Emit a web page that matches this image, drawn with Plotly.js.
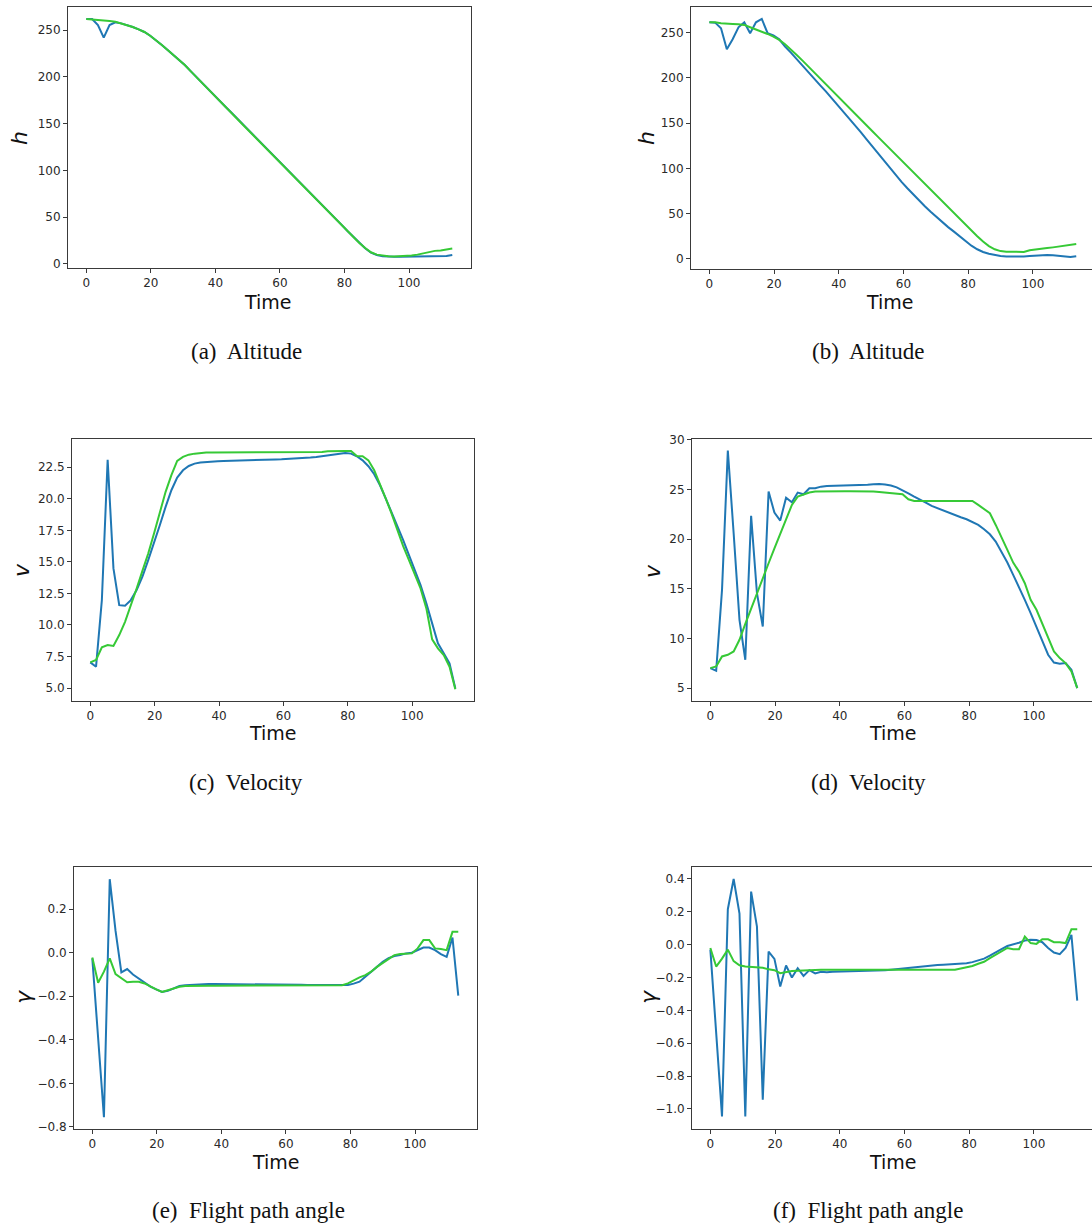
<!DOCTYPE html>
<html>
<head>
<meta charset="utf-8">
<script src="https://cdn.plot.ly/plotly-3.0.1.min.js"></script>
<style>
html,body{margin:0;padding:0;overflow:hidden;background:#fff;}
#chart{width:1100px;height:1226px;}
</style>
</head>
<body>
<div id="chart"></div>
<script>
// ---------- DATA ----------
const time = [0, 1.8, 3.6, 5.4, 7.2, 9, 10.8, 12.6, 14.4, 16.2, 18, 19.8, 21.6, 23.4, 25.2, 27, 28.8, 30.6, 32.4, 34.2,
  36, 37.8, 39.6, 41.4, 43.2, 45, 46.8, 48.6, 50.4, 52.2, 54, 55.8, 57.6, 59.4, 61.2, 63, 64.8, 66.6, 68.4, 70.2,
  72, 73.8, 75.6, 77.4, 79.2, 81, 82.8, 84.6, 86.4, 88.2, 90, 91.8, 93.6, 95.4, 97.2, 99, 100.8, 102.6, 104.4, 106.2,
  108, 109.8, 111.6, 113.4];

// (a) Altitude
const altA_blue = [261.8, 261.8, 255.3, 241.8, 255.3, 258.2, 257.1, 255.3, 253.2, 250.7, 247.9, 243.9, 239.3, 234.0, 228.7, 223.4, 218.0, 212.3, 205.8, 199.3,
  192.9, 186.6, 180.4, 174.1, 167.8, 161.6, 155.3, 149.0, 142.8, 136.6, 130.3, 124.1, 117.8, 111.6, 105.4, 99.1, 92.8, 86.5, 80.1, 73.8,
  67.4, 60.9, 54.5, 48.0, 41.5, 35.0, 28.6, 22.4, 16.8, 12.2, 9.6, 8.3, 7.8, 7.7, 7.7, 7.8, 7.8, 8.0, 8.3, 8.5,
  8.4, 8.0, 8.5, 9.5];
const altA_green = [261.8, 261.4, 260.7, 260.0, 259.6, 258.9, 257.1, 255.3, 253.2, 250.7, 247.9, 243.9, 239.3, 234.0, 228.7, 223.4, 218.0, 212.3, 205.8, 199.3,
  192.9, 186.5, 180.2, 173.9, 167.5, 161.2, 154.9, 148.5, 142.2, 135.9, 129.5, 123.2, 116.8, 110.5, 104.2, 97.8, 91.5, 85.2, 78.8, 72.5,
  66.2, 59.8, 53.5, 47.2, 40.8, 34.6, 28.5, 22.5, 17.0, 12.5, 10.0, 8.7, 8.2, 8.0, 8.2, 8.5, 9.0, 10.0, 11.5, 13.0,
  14.0, 14.5, 15.3, 16.5];

// (b) Altitude
const altB_blue = [261.4, 261.0, 254.8, 231.6, 242.6, 255.9, 261.4, 249.3, 261.4, 265.1, 249.3, 247.0, 242.6, 234.5, 227.9, 220.5, 213.1, 205.8, 198.7, 192.0,
  185.0, 177.5, 170.5, 163.5, 156.0, 148.0, 140.0, 132.0, 124.0, 116.5, 108.5, 100.5, 93.0, 85.0, 78.0, 71.0, 64.5, 58.0, 52.0, 46.0,
  40.5, 35.0, 30.0, 24.5, 19.5, 14.5, 10.5, 7.5, 5.5, 4.0, 3.0, 2.5, 2.3, 2.3, 2.5, 3.0, 3.5, 4.0, 4.2, 3.8,
  3.0, 2.2, 2.0, 2.8];
const altB_green = [261.4, 261.4, 260.3, 259.6, 259.6, 259.2, 258.5, 255.9, 253.7, 251.1, 248.5, 245.6, 241.9, 237.1, 231.6, 225.3, 219.0, 212.4, 206.0, 199.5,
  193.0, 186.5, 180.0, 173.5, 167.0, 160.5, 154.0, 147.5, 141.0, 134.5, 128.0, 121.5, 115.0, 108.5, 102.0, 95.5, 89.0, 82.5, 76.0, 69.5,
  63.0, 56.5, 50.0, 43.5, 37.0, 31.0, 25.0, 19.0, 14.0, 10.5, 8.5, 7.8, 7.5, 7.5, 7.6, 9.5, 10.0, 11.0, 11.8, 12.6,
  13.5, 14.3, 15.2, 16.3];

// (c) Velocity
const velC_blue = [7.03, 6.69, 11.97, 23.1, 14.48, 11.57, 11.52, 11.97, 12.76, 13.82, 15.14, 16.46, 17.9, 19.36, 20.68, 21.68, 22.26, 22.6, 22.79, 22.87,
  22.92, 22.95, 22.97, 22.99, 23.01, 23.03, 23.04, 23.06, 23.07, 23.08, 23.1, 23.11, 23.12, 23.13, 23.15, 23.17, 23.19, 23.22, 23.27, 23.32,
  23.38, 23.44, 23.5, 23.57, 23.63, 23.58, 23.37, 23.05, 22.58, 21.95, 21.07, 20.02, 18.96, 17.78, 16.72, 15.53, 14.34, 13.16, 11.71, 10.12,
  8.54, 7.75, 6.95, 4.97];
const velC_green = [7.03, 7.22, 8.22, 8.41, 8.33, 9.2, 10.25, 11.5, 12.89, 14.29, 15.66, 17.25, 18.96, 20.55, 21.87, 23.0, 23.32, 23.5, 23.58, 23.63,
  23.66, 23.67, 23.67, 23.68, 23.68, 23.68, 23.68, 23.68, 23.69, 23.69, 23.69, 23.69, 23.69, 23.7, 23.7, 23.7, 23.7, 23.7, 23.71, 23.71,
  23.71, 23.77, 23.79, 23.79, 23.79, 23.79, 23.4, 23.37, 23.05, 22.26, 21.2, 20.02, 18.83, 17.51, 16.25, 15.14, 14.08, 12.89, 11.31, 8.86,
  8.14, 7.61, 6.69, 4.9];

// (d) Velocity
const velD_blue = [7.01, 6.74, 14.9, 28.93, 20.6, 11.88, 7.85, 22.35, 14.56, 11.2, 24.8, 22.68, 21.88, 24.19, 23.72, 24.7, 24.53, 25.13, 25.13, 25.3,
  25.37, 25.38, 25.4, 25.41, 25.42, 25.44, 25.47, 25.5, 25.54, 25.57, 25.52, 25.42, 25.23, 24.97, 24.63, 24.3, 24.03, 23.69, 23.36, 23.12,
  22.85, 22.62, 22.45, 22.21, 22.01, 21.74, 21.44, 21.0, 20.5, 19.77, 18.76, 17.65, 16.41, 15.23, 13.89, 12.55, 11.21, 9.87, 8.36, 7.58,
  7.45, 7.52, 6.85, 5.0];
const velD_green = [7.01, 7.18, 8.19, 8.36, 8.69, 9.87, 11.48, 13.05, 14.56, 16.07, 17.58, 19.09, 20.6, 22.11, 23.46, 24.3, 24.53, 24.7, 24.8, 24.82,
  24.83, 24.83, 24.83, 24.83, 24.83, 24.83, 24.83, 24.82, 24.8, 24.75, 24.7, 24.66, 24.63, 24.53, 24.03, 23.86, 23.86, 23.86, 23.86, 23.86,
  23.86, 23.86, 23.86, 23.86, 23.86, 23.86, 23.46, 23.02, 22.62, 21.44, 20.1, 18.93, 17.65, 16.74, 15.57, 13.89, 12.89, 11.54, 10.2, 8.69,
  8.02, 7.52, 6.68, 5.0];

// (e) Flight path angle
const fpaE_blue = [-0.026, -0.39, -0.756, 0.338, 0.10, -0.09, -0.075, -0.10, -0.12, -0.14, -0.156, -0.168, -0.18, -0.175, -0.164, -0.153, -0.149, -0.147, -0.145, -0.144,
  -0.144, -0.144, -0.144, -0.144, -0.145, -0.145, -0.145, -0.145, -0.145, -0.145, -0.146, -0.146, -0.146, -0.146, -0.146, -0.147, -0.147, -0.148, -0.148, -0.149,
  -0.149, -0.15, -0.15, -0.15, -0.148, -0.142, -0.133, -0.11, -0.087, -0.065, -0.042, -0.025, -0.015, -0.01, -0.003, 0.0, 0.012, 0.024, 0.024, 0.012,
  -0.006, -0.019, 0.07, -0.197];
const fpaE_green = [-0.022, -0.138, -0.087, -0.026, -0.098, -0.118, -0.136, -0.133, -0.133, -0.141, -0.156, -0.168, -0.18, -0.172, -0.164, -0.156, -0.153, -0.152, -0.152, -0.152,
  -0.152, -0.152, -0.152, -0.152, -0.152, -0.152, -0.152, -0.152, -0.152, -0.152, -0.152, -0.152, -0.152, -0.152, -0.152, -0.152, -0.152, -0.152, -0.152, -0.152,
  -0.152, -0.152, -0.152, -0.149, -0.141, -0.126, -0.113, -0.103, -0.087, -0.065, -0.046, -0.026, -0.011, -0.006, -0.006, -0.003, 0.02, 0.058, 0.058, 0.02,
  0.017, 0.012, 0.096, 0.096];

// (f) Flight path angle
const fpaF_blue = [-0.03, -0.52, -1.045, 0.216, 0.40, 0.19, -1.045, 0.323, 0.11, -0.943, -0.042, -0.086, -0.254, -0.127, -0.2, -0.143, -0.19, -0.155, -0.175, -0.165,
  -0.168, -0.165, -0.164, -0.164, -0.164, -0.163, -0.163, -0.162, -0.16, -0.158, -0.155, -0.152, -0.148, -0.145, -0.141, -0.137, -0.133, -0.13, -0.127, -0.124,
  -0.122, -0.12, -0.119, -0.117, -0.113, -0.106, -0.097, -0.085, -0.067, -0.045, -0.027, -0.008, 0.0, 0.012, 0.025, 0.03, 0.028, 0.015, -0.02, -0.048,
  -0.058, -0.02, 0.06, -0.34];
const fpaF_green = [-0.02, -0.133, -0.085, -0.03, -0.10, -0.125, -0.133, -0.135, -0.137, -0.14, -0.15, -0.155, -0.173, -0.165, -0.16, -0.158, -0.156, -0.155, -0.154, -0.153,
  -0.153, -0.153, -0.153, -0.153, -0.153, -0.153, -0.153, -0.153, -0.153, -0.153, -0.153, -0.153, -0.153, -0.153, -0.153, -0.153, -0.153, -0.153, -0.153, -0.153,
  -0.153, -0.153, -0.153, -0.145, -0.137, -0.13, -0.116, -0.104, -0.082, -0.062, -0.045, -0.02, -0.027, -0.027, 0.05, 0.01, 0.005, 0.033, 0.033, 0.015,
  0.015, 0.01, 0.094, 0.094];

// Ticks and labels
const timeTicks = [0, 20, 40, 60, 80, 100];
const altTicks = [0, 50, 100, 150, 200, 250];
const velTicksC = [5, 7.5, 10, 12.5, 15, 17.5, 20, 22.5];
const velLabelsC = ['5.0', '7.5', '10.0', '12.5', '15.0', '17.5', '20.0', '22.5'];
const velTicksD = [5, 10, 15, 20, 25, 30];
const fpaTicksE = [-0.8, -0.6, -0.4, -0.2, 0, 0.2];
const fpaLabelsE = ['\u22120.8', '\u22120.6', '\u22120.4', '\u22120.2', '0.0', '0.2'];
const fpaTicksF = [-1.0, -0.8, -0.6, -0.4, -0.2, 0, 0.2, 0.4];
const fpaLabelsF = ['\u22121.0', '\u22120.8', '\u22120.6', '\u22120.4', '\u22120.2', '0.0', '0.2', '0.4'];
const xLabel = 'Time';
const yLabels = ['<i>h</i>', '<i>h</i>', '<i>v</i>', '<i>v</i>', '<i>\u03b3</i>', '<i>\u03b3</i>'];
const captions = ['(a)&nbsp; Altitude', '(b)&nbsp; Altitude', '(c)&nbsp; Velocity', '(d)&nbsp; Velocity',
  '(e)&nbsp; Flight path angle', '(f)&nbsp; Flight path angle'];

// ---------- LAYOUT ----------
const W = 1100, H = 1226;
const BLUE = '#1f77b4', GREEN = '#36c936';
function dx(l, r) { return [l / W, r / W]; }
function dy(t, b) { return [1 - b / H, 1 - t / H]; }

const panels = [
  { x: [68, 471], y: [7, 268], yr: [-4.3, 274.6], tv: altTicks, tt: null, b: altA_blue, g: altA_green },
  { x: [691, 1095], y: [7, 269], yr: [-11.3, 278.3], tv: altTicks, tt: null, b: altB_blue, g: altB_green },
  { x: [72, 474], y: [439, 701], yr: [3.97, 24.74], tv: velTicksC, tt: velLabelsC, b: velC_blue, g: velC_green },
  { x: [692, 1096], y: [439, 701], yr: [3.7, 30.1], tv: velTicksD, tt: null, b: velD_blue, g: velD_green },
  { x: [74, 477], y: [867, 1129], yr: [-0.81, 0.394], tv: fpaTicksE, tt: fpaLabelsE, b: fpaE_blue, g: fpaE_green },
  { x: [692, 1096], y: [867, 1129], yr: [-1.122, 0.473], tv: fpaTicksF, tt: fpaLabelsF, b: fpaF_blue, g: fpaF_green }
];

const axBase = {
  showgrid: false, zeroline: false, showline: true, mirror: true,
  linecolor: '#3a3a3a', linewidth: 1, ticks: 'outside', ticklen: 4, tickwidth: 1, tickcolor: '#3a3a3a',
  tickfont: { family: 'DejaVu Sans', size: 12, color: '#2a2a2a' }, fixedrange: true
};

const traces = [];
const layout = {
  width: W, height: H, margin: { l: 0, r: 0, t: 0, b: 0 },
  paper_bgcolor: '#fff', plot_bgcolor: '#fff', showlegend: false, annotations: []
};

// label positions (px)
const timePos = [[268, 302], [890, 302], [273, 733], [893, 733], [276, 1162], [893, 1162]];
const yLabPos = [[20, 138], [647, 138], [21, 570], [652, 571], [23, 997], [648, 997]];
const capPos = [[246, 351], [868, 351], [246, 782], [868, 782], [248, 1210], [868, 1210]];

panels.forEach((p, i) => {
  const n = i + 1;
  const xa = 'xaxis' + (n === 1 ? '' : n), ya = 'yaxis' + (n === 1 ? '' : n);
  const xr = 'x' + (n === 1 ? '' : n), yr = 'y' + (n === 1 ? '' : n);
  layout[xa] = Object.assign({}, axBase, {
    domain: dx(p.x[0], p.x[1]), range: [-5.675, 119.2], anchor: yr,
    tickmode: 'array', tickvals: timeTicks
  });
  const yax = Object.assign({}, axBase, {
    domain: dy(p.y[0], p.y[1]), range: p.yr, anchor: xr, tickmode: 'array', tickvals: p.tv
  });
  if (p.tt) yax.ticktext = p.tt;
  layout[ya] = yax;
  traces.push({ x: time, y: p.b, xaxis: xr, yaxis: yr, type: 'scatter', mode: 'lines',
    line: { color: BLUE, width: 2 }, hoverinfo: 'skip' });
  traces.push({ x: time, y: p.g, xaxis: xr, yaxis: yr, type: 'scatter', mode: 'lines',
    line: { color: GREEN, width: 2 }, hoverinfo: 'skip' });

  layout.annotations.push({
    xref: 'paper', yref: 'paper', x: timePos[i][0] / W, y: 1 - timePos[i][1] / H,
    xanchor: 'center', yanchor: 'middle', showarrow: false, text: xLabel,
    font: { family: 'DejaVu Sans', size: 19, color: '#111' }
  });
  layout.annotations.push({
    xref: 'paper', yref: 'paper', x: yLabPos[i][0] / W, y: 1 - yLabPos[i][1] / H,
    xanchor: 'center', yanchor: 'middle', showarrow: false, text: yLabels[i], textangle: -90,
    font: { family: 'DejaVu Sans', size: 22, color: '#111' }
  });
  layout.annotations.push({
    xref: 'paper', yref: 'paper', x: capPos[i][0] / W, y: 1 - capPos[i][1] / H,
    xanchor: 'center', yanchor: 'middle', showarrow: false, text: captions[i],
    font: { family: 'Liberation Serif', size: 23, color: '#111' }
  });
});

Plotly.newPlot('chart', traces, layout, { staticPlot: true, responsive: false, displayModeBar: false });
</script>
</body>
</html>
